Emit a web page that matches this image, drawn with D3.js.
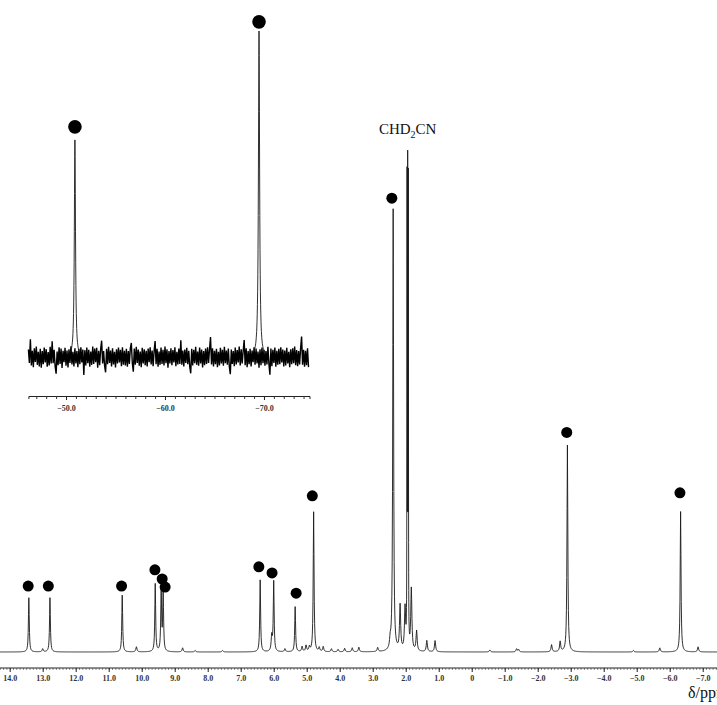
<!DOCTYPE html>
<html>
<head>
<meta charset="utf-8">
<script src="https://cdn.jsdelivr.net/npm/d3@7"></script>
<style>
  body { margin: 0; background: #fff; }
  svg { display: block; }
</style>
</head>
<body>
<svg id="chart" width="717" height="705"></svg>
<script>
// ---- main spectrum: assigned signals (ppm, height as % of solvent line)
const signalPpm    = [13.42, 12.78, 10.59, 9.59, 9.41, 9.35, 6.41, 6.00, 5.35, 4.79, 2.38, -2.90, -6.33]
const signalHeight = [10.7, 10.7, 11.2, 13.4, 12.2, 11.8, 14.2, 13.8, 8.9, 27.6, 87.2, 40.8, 27.7]

// dot markers above the assigned signals (ppm, level)
const dotPpm   = [13.44, 12.83, 10.61, 9.60, 9.38, 9.29, 6.45, 6.05, 5.32, 4.83, 2.42, -2.88, -6.31]
const dotLevel = [13.0, 13.0, 13.0, 16.2, 14.4, 12.8, 16.8, 15.6, 11.6, 30.8, 89.5, 43.3, 31.4]

// residual solvent line (CHD2CN), drawn as its resolved multiplet
const solventPpm    = [1.96, 1.94, 1.92]
const solventHeight = [90, 91, 90]

// small impurity / baseline features
const minorPpm    = [13.0, 10.16, 8.76, 8.38, 7.55, 6.06, 5.66, 5.14, 5.02, 4.92, 4.62, 4.50, 4.25, 4.05, 3.85, 3.62, 3.42, 2.85, 2.47, 2.17, 2.02, 1.83, 1.67, 1.36, 1.11, -0.55, -1.36, -1.42, -2.42, -2.68, -4.9, -5.70, -6.86]
const minorHeight = [0.6, 1.0, 0.8, 0.3, 0.3, 3.0, 0.6, 1.0, 1.2, 0.9, 0.8, 1.0, 0.6, 0.5, 0.7, 0.8, 0.9, 0.8, 1.6, 8.9, 8.3, 12.2, 4.0, 2.2, 2.2, 0.4, 0.6, 0.5, 1.4, 2.0, 0.3, 0.8, 1.0]

// main axis labels
const mainTickValues = [14, 13, 12, 11, 10, 9, 8, 7, 6, 5, 4, 3, 2, 1, 0, -1, -2, -3, -4, -5, -6, -7]

// ---- inset
const insetPpm    = [-50.9, -69.5]
const insetHeight = [66.6, 100]
const insetDotLevel = [70.6, 102.8]
const insetTickValues = [-50, -60, -70]
// baseline noise, read every 0.1 ppm starting at -46.2
const insetNoise = [
  2.3,-1.8,5.4,-2.6,1.9,-3.1,2.7,-1.5,3.2,-2.4,1.6,-2.9,2.5,-3.3,1.8,-2.2,2.9,-1.7,2.4,-3.0,
  1.5,-2.6,3.1,-2.0,4.8,-1.9,2.2,-2.8,-5.1,1.7,-2.5,3.0,-2.1,2.6,-3.4,1.9,-1.6,2.8,-2.7,2.0,
  -3.2,2.4,-1.8,3.3,-2.3,1.6,-2.9,2.7,-2.0,1.8,-3.1,2.5,-2.2,3.0,-1.7,2.3,-5.5,2.1,-2.6,2.9,
  -1.9,2.2,-3.0,1.7,-2.4,3.2,-2.1,2.6,-1.6,2.8,-3.3,1.9,-2.5,2.4,5.0,-2.0,1.8,-2.7,-4.7,2.5,
  -2.2,3.1,-1.8,2.0,-2.9,2.7,-2.3,1.6,-3.2,2.4,-2.0,2.9,-1.7,2.2,-2.8,3.0,-2.4,1.9,-2.6,2.5,
  -3.0,1.8,-2.1,2.7,4.3,-1.9,-4.5,2.6,-2.4,3.1,-1.8,2.3,-2.7,1.7,-3.1,2.8,-2.0,2.4,-2.5,1.9,
  -2.9,2.6,-1.6,3.0,-2.3,2.0,-2.8,1.8,4.9,-2.2,2.5,-3.0,1.7,-2.4,2.9,-2.1,2.2,-2.6,3.2,-1.9,
  2.4,-3.3,1.8,-2.0,2.7,-2.5,2.1,-1.7,3.0,-2.8,1.6,-2.3,2.6,-2.1,5.1,-2.4,2.0,-2.9,2.3,-1.8,
  2.8,-2.2,1.9,-3.0,-5.0,2.5,-2.6,2.2,-1.9,3.1,-2.4,1.7,-2.7,2.9,-2.0,2.3,-3.2,1.8,-2.5,2.6,
  -2.1,3.0,-1.8,2.4,6.1,-2.3,2.7,-2.9,1.9,-2.2,2.5,-3.1,1.6,-2.6,2.8,-2.0,2.2,-2.7,3.1,-1.9,
  2.0,-2.4,2.6,-3.0,-5.3,2.3,-2.1,1.8,-2.8,2.9,-2.3,2.1,-1.7,3.2,-2.6,2.4,-2.0,1.9,5.2,-2.5,
  2.7,-3.1,1.8,-2.2,2.5,-2.9,2.0,-1.6,3.0,-2.4,2.6,-2.0,1.7,-3.3,2.4,-2.5,2.9,-1.9,2.2,-2.7,
  1.8,-2.3,3.1,-2.1,-5.4,2.6,-2.8,2.2,-1.8,2.9,-3.0,1.9,-2.4,2.5,-2.2,3.0,-1.7,2.3,-2.9,2.0,
  -2.6,2.8,-2.0,1.6,-3.1,2.4,-2.2,2.7,-1.9,3.2,-2.5,2.1,-2.8,1.8,-2.3,2.6,6.3,-2.4,2.2,-3.0,
  1.9,-2.5,2.7,-3.1]
const noiseStart = -46.2
const noiseStep = 0.1

const svg = d3.select('#chart')
svg.append('rect').attr('width', 717).attr('height', 705).attr('fill', '#fff')

// ---- scales
const x = d3.scaleLinear().domain([14.294, -7.433]).range([0, 717])
const y = d3.scaleLinear().domain([0, 100]).range([652, 145])
const xi = d3.scaleLinear().domain([-46.2, -74.6]).range([28.4, 309.5])
const yi = d3.scaleLinear().domain([0, 100]).range([357, 31])

const serif = 'Liberation Serif, Times New Roman, serif'

// lorentzian line shape for a list of lines
function lineShape(ppm, centres, heights, hw) {
	let s = 0
	for (let i = 0; i < centres.length; i++) {
		const d = (ppm - centres[i]) / hw
		s += heights[i] / (1 + d * d)
	}
	return s
}

// ---- main spectrum trace
let grid = d3.range(-7.5, 14.35, 0.01)
grid = grid.concat(signalPpm, solventPpm, minorPpm, d3.range(1.90, 1.98, 0.002)).sort((a, b) => b - a)
const spectrum = grid.map(p => ({
	ppm: p,
	v: lineShape(p, signalPpm, signalHeight, 0.015) +
		lineShape(p, solventPpm, solventHeight, 0.004) +
		lineShape(p, minorPpm, minorHeight, 0.02)
}))

const line = d3.line().x(d => x(d.ppm)).y(d => y(d.v))
svg.append('path')
	.datum(spectrum)
	.attr('d', line)
	.attr('fill', 'none')
	.attr('stroke', '#1a1a1a')
	.attr('stroke-width', 0.9)

// dots
svg.selectAll('circle.main')
	.data(dotPpm)
	.enter()
	.append('circle')
		.attr('class', 'main')
		.attr('cx', d => x(d))
		.attr('cy', (d, i) => y(dotLevel[i]))
		.attr('r', 5.5)
		.attr('fill', '#000')

// solvent label
const lab = svg.append('text')
	.attr('x', x(1.94))
	.attr('y', 134)
	.attr('text-anchor', 'middle')
	.style('font-family', serif)
	.style('font-size', '15px')
	.attr('fill', '#111')
lab.append('tspan').text('CHD')
lab.append('tspan').text('2').style('font-size', '10px').attr('dy', 4)
lab.append('tspan').text('CN').attr('dy', -4)

// ---- main axis
const axisY = 668
const fmt = d => d === 0 ? '0' : (d < 0 ? '\u2212' : '') + Math.abs(d).toFixed(1)
const gMinor = svg.append('g').attr('transform', `translate(0,${axisY})`)
	.call(d3.axisBottom(x).tickValues(d3.range(-74, 144).map(d => d / 10)).tickSize(2).tickFormat(''))
gMinor.select('.domain').remove()
gMinor.selectAll('line').attr('stroke', '#444').attr('stroke-width', 0.6)

const gMain = svg.append('g').attr('transform', `translate(0,${axisY})`)
	.call(d3.axisBottom(x).tickValues(mainTickValues).tickSize(4).tickPadding(3).tickFormat(fmt))
gMain.select('.domain').attr('d', 'M0,0H717').attr('stroke', '#222')
gMain.selectAll('line').attr('stroke', '#222')
gMain.selectAll('text')
	.style('font-family', serif)
	.style('font-size', '8px')
	.style('font-weight', 'bold')
	.attr('fill', '#333')

svg.append('text')
	.attr('x', 688)
	.attr('y', 698)
	.style('font-family', serif)
	.style('font-size', '16px')
	.attr('fill', '#111')
	.text('\u03b4/ppm')

// ---- inset
const noisePts = insetNoise.map((v, i) => ({ ppm: noiseStart - i * noiseStep, v }))
const insetLine = d3.line().x(d => xi(d.ppm)).y(d => yi(d.v))
svg.append('path')
	.datum(noisePts)
	.attr('d', insetLine)
	.attr('fill', 'none')
	.attr('stroke', '#000')
	.attr('stroke-width', 1.4)

insetPpm.forEach((c, k) => {
	const pts = d3.range(c - 0.6, c + 0.61, 0.02).concat([c]).sort((a, b) => b - a)
		.map(p => ({ ppm: p, v: lineShape(p, [c], [insetHeight[k]], 0.07) }))
	svg.append('path')
		.datum(pts)
		.attr('d', insetLine)
		.attr('fill', 'none')
		.attr('stroke', '#1a1a1a')
		.attr('stroke-width', 0.9)
})

svg.selectAll('circle.inset')
	.data(insetPpm)
	.enter()
	.append('circle')
		.attr('class', 'inset')
		.attr('cx', d => xi(d))
		.attr('cy', (d, i) => yi(insetDotLevel[i]))
		.attr('r', 6.8)
		.attr('fill', '#000')

const insetAxisY = 396
const giMinor = svg.append('g').attr('transform', `translate(0,${insetAxisY})`)
	.call(d3.axisBottom(xi).tickValues(d3.range(-47, -75, -1)).tickSize(3).tickFormat(''))
giMinor.select('.domain').attr('stroke', '#222')
giMinor.selectAll('line').attr('stroke', '#333')

const giMain = svg.append('g').attr('transform', `translate(0,${insetAxisY})`)
	.call(d3.axisBottom(xi).tickValues(insetTickValues).tickSize(4).tickPadding(5).tickFormat(fmt))
giMain.select('.domain').remove()
giMain.selectAll('line').attr('stroke', '#222')
giMain.selectAll('text')
	.style('font-family', serif)
	.style('font-size', '8px')
	.style('font-weight', 'bold')
	.attr('fill', '#333')
</script>
</body>
</html>
